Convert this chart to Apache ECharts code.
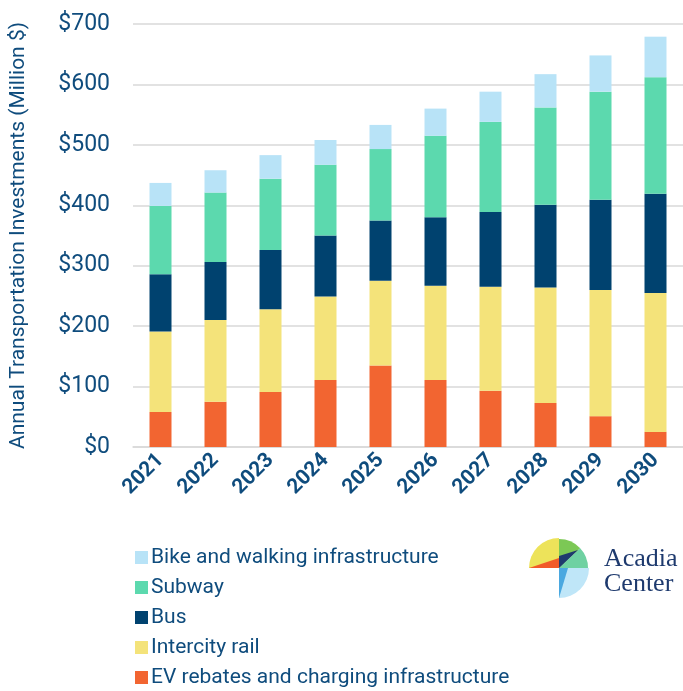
<!DOCTYPE html>
<html>
<head>
<meta charset="utf-8">
<script src="https://cdn.jsdelivr.net/npm/echarts@6/dist/echarts.min.js"></script>
<style>
    html, body { margin: 0; padding: 0; background: #fff; }
    #chart { width: 683px; height: 691px; }
</style>
</head>
<body>
<div id="chart"></div>
<script>
// years on the x axis
var years = ["2021", "2022", "2023", "2024", "2025", "2026", "2027", "2028", "2029", "2030"];
// million $ per year
var evCharging = [58, 75, 91, 111, 135, 111, 93, 73, 51, 25];
var intercityRail = [133, 135, 137, 138, 140, 156, 172, 191, 209, 230];
var bus = [95, 96, 98, 101, 100, 113, 124, 137, 149, 164];
var subway = [113, 115, 118, 117, 118, 135, 149, 161, 179, 193];
var bikeWalk = [38, 37, 39, 41, 40, 45, 50, 55, 60, 67];
var yTicks = [0, 100, 200, 300, 400, 500, 600, 700];

var textColor = "#0f4c7d";
var font = "Roboto, 'Liberation Sans', sans-serif";
var serif = "'Liberation Serif', 'DejaVu Serif', serif";

var chart = echarts.init(document.getElementById("chart"));

function barSeries(name, data, color) {
    return {
        name: name,
        type: "bar",
        stack: "total",
        barWidth: 22,
        data: data,
        itemStyle: { color: color },
        emphasis: { disabled: true }
    };
}

// logo pieces (decoration only), angles in degrees counter-clockwise from east
var lx = 559, ly = 568, lr = 29;
function wedge(a0, a1, color, r) {
    return {
        type: "sector",
        shape: { cx: lx, cy: ly, r: r || lr, startAngle: -a0 * Math.PI / 180, endAngle: -a1 * Math.PI / 180, clockwise: false },
        style: { fill: color }
    };
}
function poly(pts, color) {
    return { type: "polygon", shape: { points: pts.map(function (p) { return [lx + p[0], ly + p[1]]; }) }, style: { fill: color } };
}

var logo = [
    wedge(90, 180, "#ede35a", 30),
    poly([[-30, 0], [0, 0], [0, -10]], "#f15a29"),
    wedge(43, 90, "#7cc855"),
    wedge(0, 43, "#6fd1a2"),
    poly([[0, 0], [0, -12], [19, -18]], "#1e3a6e"),
    wedge(270, 360, "#bfe6f8", 30),
    poly([[0, 0], [9, 0], [0, 30]], "#4aa8e0"),
    { type: "text", left: 604, top: 546, style: { text: "Acadia", fontSize: 26, fontFamily: serif, fill: "#1e3a6e" } },
    { type: "text", left: 604, top: 571, style: { text: "Center", fontSize: 26, fontFamily: serif, fill: "#1e3a6e" } }
];

var option = {
    backgroundColor: "#fff",
    animation: false,
    textStyle: { fontFamily: font },
    grid: { left: 133, right: 0, top: 24, bottom: 244, outerBoundsMode: "none" },
    legend: {
        orient: "vertical",
        left: 135,
        top: 547,
        padding: 0,
        height: 150,
        icon: "rect",
        itemWidth: 13,
        itemHeight: 13,
        itemGap: 9,
        selectedMode: false,
        textStyle: { color: textColor, fontSize: 21, lineHeight: 20, fontFamily: font, padding: [0, 0, 0, -2] },
        data: ["Bike and walking infrastructure", "Subway", "Bus", "Intercity rail", "EV rebates and charging infrastructure"]
    },
    xAxis: {
        type: "category",
        data: years,
        axisLine: { lineStyle: { color: "#d9d9d9", width: 1.5 } },
        axisTick: { show: false },
        axisLabel: { rotate: 45, color: textColor, fontSize: 21, fontWeight: "bold", fontFamily: font, margin: 10, interval: 0 }
    },
    yAxis: {
        type: "value",
        min: yTicks[0],
        max: yTicks[yTicks.length - 1],
        interval: 100,
        name: "Annual Transportation Investments (Million $)",
        nameLocation: "middle",
        nameGap: 104,
        nameTextStyle: { color: textColor, fontSize: 21, fontFamily: font },
        axisLine: { show: false },
        axisTick: { show: false },
        splitLine: { lineStyle: { color: "#d9d9d9", width: 1.5 } },
        axisLabel: {
            color: textColor, fontSize: 23, fontFamily: font, margin: 23,
            formatter: function (v) { return "$" + v; }
        }
    },
    series: [
        barSeries("EV rebates and charging infrastructure", evCharging, "#f26531"),
        barSeries("Intercity rail", intercityRail, "#f4e37a"),
        barSeries("Bus", bus, "#00426f"),
        barSeries("Subway", subway, "#5cd9ae"),
        barSeries("Bike and walking infrastructure", bikeWalk, "#b8e3f7")
    ],
    graphic: logo
};

chart.setOption(option);
</script>
</body>
</html>
